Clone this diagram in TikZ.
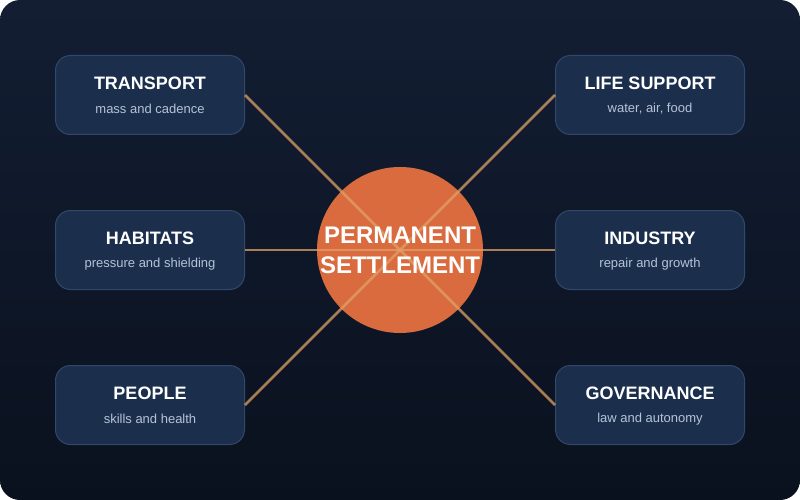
\documentclass[tikz,border=0pt]{standalone}
\usepackage{fontspec}
\setmainfont{Liberation Sans}
\usetikzlibrary{positioning}

\definecolor{bgtop}{HTML}{131E33}
\definecolor{bgbot}{HTML}{0A111E}
\definecolor{cardfill}{HTML}{1B2F4D}
\definecolor{cardline}{HTML}{31486A}
\definecolor{hubfill}{HTML}{D96B3E}
\definecolor{spoke}{HTML}{E0A068}
\definecolor{subtext}{HTML}{B5C3D9}

\begin{document}
\begin{tikzpicture}[x=1pt, y=-1pt,
    card/.style={draw=cardline, line width=1pt, fill=cardfill, rounded corners=15pt,
        minimum width=189pt, minimum height=79pt},
    cardtitle/.style={text=white, font=\fontsize{18}{20}\selectfont\bfseries},
    cardsub/.style={text=subtext, font=\fontsize{13}{15}\selectfont},
    spokeline/.style={draw=spoke, line width=2.5pt, opacity=0.75}]
    \useasboundingbox (0,0) rectangle (800,500);
    \fill[white] (0,0) rectangle (800,500);
    \shade[rounded corners=20pt, top color=bgtop, bottom color=bgbot] (0,0) rectangle (800,500);
    % centre disc
    \node[circle, fill=hubfill, minimum size=166pt, inner sep=0pt] (hub) at (400,250) {};
    % the six cards
    \foreach \n/\x/\y/\t/\s in {trans/150/95/TRANSPORT/mass and cadence,
        habit/150/250/HABITATS/pressure and shielding,
        people/150/405/PEOPLE/skills and health,
        life/650/95/LIFE SUPPORT/{water, air, food},
        indus/650/250/INDUSTRY/repair and growth,
        gov/650/405/GOVERNANCE/law and autonomy} {
        \node[card] (\n) at (\x,\y) {};
        \node[cardtitle] (\n-t) at (\x,\y-12) {\t};
        \node[cardsub] (\n-s) at (\x,\y+14) {\s};
    }
    \foreach \n in {trans,habit,people} {
        \draw[spokeline] (\n.east) -- (hub.center);
    }
    \foreach \n in {life,indus,gov} {
        \draw[spokeline] (\n.west) -- (hub.center);
    }
    \node[text=white, align=center, font=\fontsize{24}{30}\selectfont\bfseries] (hub-t) at (hub) {PERMANENT\\SETTLEMENT};
\end{tikzpicture}
\end{document}
